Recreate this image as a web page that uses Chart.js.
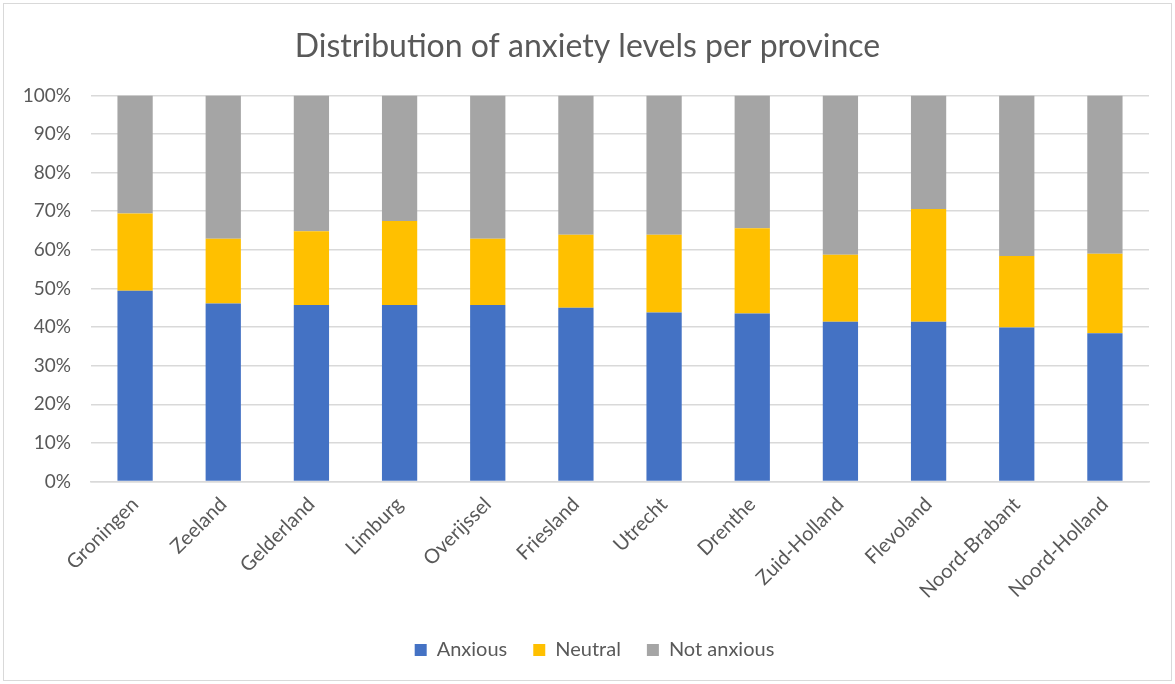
<!DOCTYPE html>
<html>
<head>
<meta charset="utf-8">
<title>Distribution of anxiety levels per province</title>
<script src="https://cdn.jsdelivr.net/npm/chart.js@4.4.0/dist/chart.umd.min.js"></script>
<style>
    html, body { margin: 0; padding: 0; background: #fff; }
    #wrap { position: relative; width: 1175px; height: 684px; }
</style>
</head>
<body>
<div id="wrap">
    <canvas id="chart" width="1175" height="684"></canvas>
</div>
<script>
// Provinces, sorted by share of anxious respondents
const provinces = ['Groningen', 'Zeeland', 'Gelderland', 'Limburg', 'Overijssel', 'Friesland',
    'Utrecht', 'Drenthe', 'Zuid-Holland', 'Flevoland', 'Noord-Brabant', 'Noord-Holland'];

// Shares in percent (each column adds up to 100)
const anxious    = [49.4, 46.1, 45.7, 45.7, 45.7, 45.0, 43.8, 43.5, 41.4, 41.4, 39.9, 38.4];
const neutral    = [20.0, 16.8, 19.1, 21.8, 17.2, 18.9, 20.1, 22.1, 17.3, 29.2, 18.5, 20.6];
const notAnxious = [30.6, 37.1, 35.2, 32.5, 37.1, 36.1, 36.1, 34.4, 41.3, 29.4, 41.6, 41.0];

const yTicks = [0, 10, 20, 30, 40, 50, 60, 70, 80, 90, 100];

const textColor = '#595959';
const fontFamily = 'Lato, "Open Sans", sans-serif';

// Light frame round the whole chart
const framePlugin = {
    id: 'frame',
    beforeDraw(chart) {
        const ctx = chart.ctx;
        ctx.save();
        ctx.fillStyle = '#ffffff';
        ctx.fillRect(0, 0, chart.width, chart.height);
        ctx.strokeStyle = '#d9d9d9';
        ctx.lineWidth = 1;
        ctx.strokeRect(3.5, 3.5, chart.width - 7, chart.height - 7);
        ctx.restore();
    }
};

// Title and legend are centred on the whole frame, not on the plot
const centreShift = {
    id: 'centreShift',
    afterLayout(chart) {
        chart.titleBlock.left += 13;
        chart.titleBlock.right += 13;
        chart.legend.left += 20;
        chart.legend.right += 20;
    }
};

new Chart(document.getElementById('chart').getContext('2d'), {
    type: 'bar',
    data: {
        labels: provinces,
        datasets: [
            { label: 'Anxious', data: anxious, backgroundColor: '#4472C4' },
            { label: 'Neutral', data: neutral, backgroundColor: '#FFC000' },
            { label: 'Not anxious', data: notAnxious, backgroundColor: '#A5A5A5' }
        ]
    },
    options: {
        responsive: false,
        animation: false,
        layout: { padding: { left: 0, right: 26, top: 0, bottom: 14 } },
        datasets: {
            bar: { barPercentage: 1, categoryPercentage: 0.4, borderWidth: 0 }
        },
        plugins: {
            title: {
                display: true,
                text: 'Distribution of anxiety levels per province',
                color: textColor,
                font: { family: fontFamily, size: 32, weight: 'normal' },
                padding: { top: 27, bottom: 30 }
            },
            legend: {
                position: 'bottom',
                labels: {
                    color: textColor,
                    font: { family: fontFamily, size: 20 },
                    boxWidth: 12,
                    boxHeight: 12,
                    padding: 26
                }
            },
            tooltip: { enabled: false }
        },
        scales: {
            x: {
                stacked: true,
                grid: { display: false, drawTicks: false },
                border: { display: true, color: '#d9d9d9', width: 1.5 },
                ticks: {
                    color: textColor,
                    font: { family: fontFamily, size: 20 },
                    minRotation: 45,
                    maxRotation: 45,
                    padding: 11
                }
            },
            y: {
                stacked: true,
                min: 0,
                max: 100,
                afterFit(scale) { scale.width = 91; },
                afterBuildTicks(scale) { scale.ticks = yTicks.map(v => ({ value: v })); },
                grid: { color: '#d9d9d9', lineWidth: 1.5, drawTicks: false },
                border: { display: false },
                ticks: {
                    color: textColor,
                    font: { family: fontFamily, size: 19 },
                    padding: 20,
                    callback: v => v + '%'
                }
            }
        }
    },
    plugins: [framePlugin, centreShift]
});
</script>
</body>
</html>
